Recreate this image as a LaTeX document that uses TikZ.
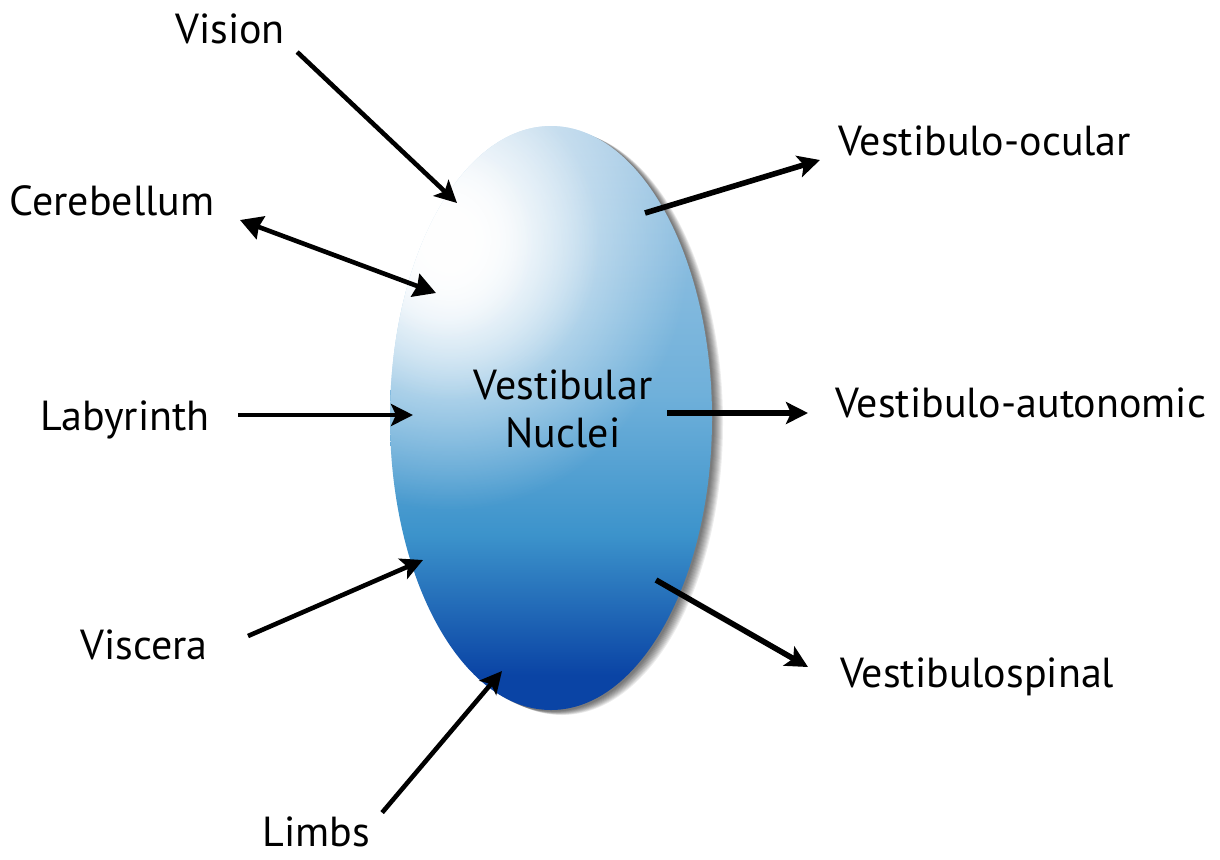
\documentclass[tikz,border=0pt]{standalone}
\usepackage{fontspec}
\setmainfont{PT Sans}
\usetikzlibrary{arrows.meta,fadings}

\definecolor{vntop}{HTML}{A2C8E4}
\definecolor{vnmid}{HTML}{6FB0DA}
\definecolor{vndeep}{HTML}{3C93CB}
\definecolor{vnbot}{HTML}{0A44A5}

\pgfdeclareverticalshading{nucleishade}{100bp}{color(0bp)=(vnbot); color(28bp)=(vnbot); color(40bp)=(vndeep); color(52bp)=(vnmid); color(75bp)=(vntop); color(100bp)=(vntop)}
\tikzfading[name=glowfade, inner color=transparent!0, outer color=transparent!100]

\tikzset{
  lbl/.style={font=\fontsize{21}{24}\selectfont, text height=15pt, text depth=4pt, inner sep=3pt},
  core/.style={font=\fontsize{21}{24}\selectfont, align=center, inner sep=0pt},
  infeed/.style={line width=2.3pt, -{Stealth[length=11pt,width=11pt,inset=2.5pt]}},
  outfeed/.style={line width=2.8pt, -{Stealth[length=11pt,width=11pt,inset=2.5pt]}},
  twofeed/.style={line width=2.3pt, {Stealth[length=11pt,width=12pt,inset=1pt]}-{Stealth[length=11pt,width=12pt,inset=1pt]}}
}

\begin{document}
\begin{tikzpicture}[x=0.5pt,y=-0.5pt]
  \useasboundingbox (0,0) rectangle (1220,859);

  %soft shadow
  \foreach \s in {1,...,10}
    \fill[black,opacity=0.07] (552+\s,419+0.4*\s) ellipse (161 and 292);

  %the nuclei
  \shade[shading=nucleishade] (551,418) ellipse (161 and 292);
  \begin{scope}
    \clip (551,418) ellipse (161 and 292);
    \fill[white,path fading=glowfade] (450,240) ellipse (240 and 270);
    \fill[white,path fading=glowfade] (450,240) ellipse (150 and 160);
    \fill[white,path fading=glowfade] (445,240) ellipse (90 and 100);
  \end{scope}
  \node[core] (vn) at (563,409) {Vestibular\\Nuclei};

  %ends inside the nuclei
  \coordinate (tVision) at (457,203);
  \coordinate (tCereb) at (436,293);
  \coordinate (tLaby) at (413,415);
  \coordinate (tVisc) at (423,560);
  \coordinate (tLimbs) at (502,671);
  \coordinate (sOcular) at (645,213);
  \coordinate (sAuto) at (667,413);
  \coordinate (sSpinal) at (656,580);

  %inputs
  \node[lbl] (vision) at (230,32) {Vision};
  \node[lbl,anchor=east] (cereb) at (221,204) {Cerebellum};
  \node[lbl,anchor=east] (laby) at (216,419) {Labyrinth};
  \node[lbl,anchor=east] (visc) at (214,648) {Viscera};
  \node[lbl,text depth=0pt,inner sep=1pt,anchor=base] (limbs) at (316,846) {Limbs};

  %outputs
  \node[lbl,anchor=west] (ocular) at (832,144) {Vestibulo-ocular};
  \node[lbl,anchor=west] (auto) at (829,406) {Vestibulo-autonomic};
  \node[lbl,anchor=west] (spinal) at (834,676) {Vestibulospinal};

  \draw[infeed] ([shift={(6,20)}]vision.east) -- (tVision);
  \draw[twofeed] ([shift={(19,16)}]cereb.east) -- (tCereb);
  \draw[infeed] ([shift={(22,-4)}]laby.east) -- (tLaby);
  \draw[infeed] ([shift={(34,-12)}]visc.east) -- (tVisc);
  \draw[infeed] ([shift={(10,-1)}]limbs.north east) -- (tLimbs);

  \draw[outfeed] (sOcular) -- ([shift={(-12,16)}]ocular.west);
  \draw[outfeed] (sAuto) -- ([shift={(-21,7)}]auto.west);
  \draw[outfeed] (sSpinal) -- ([shift={(-26,-9)}]spinal.west);
\end{tikzpicture}
\end{document}
